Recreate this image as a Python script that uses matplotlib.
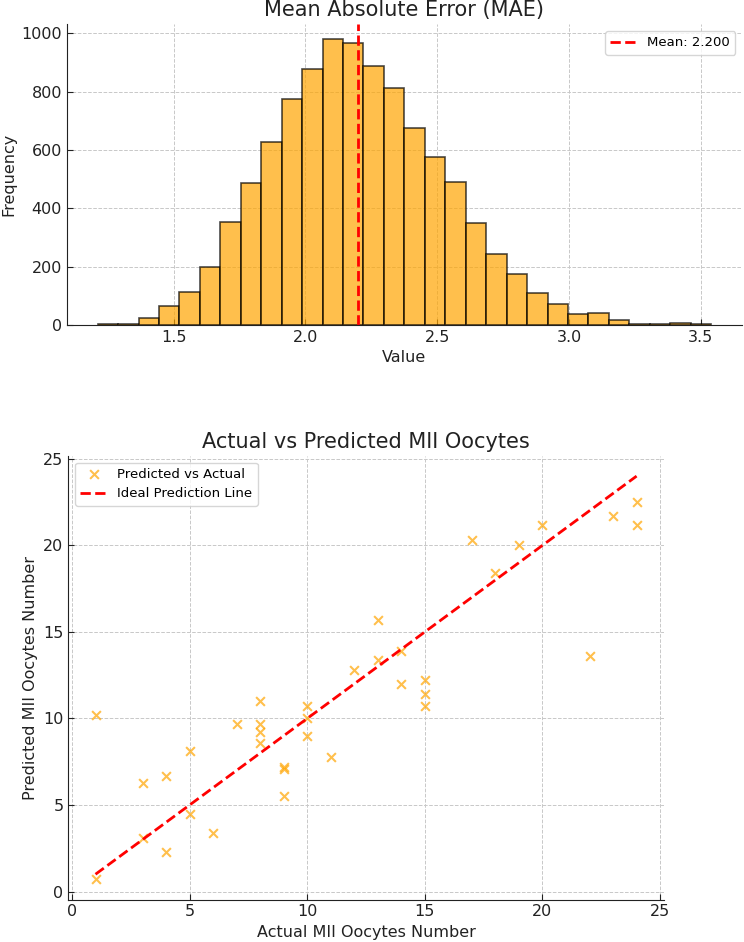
import numpy as np
import matplotlib
matplotlib.use("Agg")
import matplotlib.pyplot as plt

# histogram of MAE values (30 bins, counts)
mae_lo = 1.212
mae_hi = 3.539
mae_counts = [2, 5, 25, 66, 112, 199, 354, 486, 627, 776,
              877, 981, 966, 888, 814, 675, 577, 489, 349, 245,
              174, 109, 73, 37, 41, 16, 5, 2, 8, 2]
mae_mean = 2.200

# actual vs predicted MII oocytes
actual = [1, 1, 3, 3, 4, 4, 5, 5, 6, 7,
          8, 8, 8, 8, 9, 9, 9, 10, 10, 10,
          11, 12, 13, 13, 14, 14, 15, 15, 15, 17,
          18, 19, 20, 22, 23, 24, 24]
predicted = [10.2, 0.7, 6.3, 3.1, 6.7, 2.3, 8.1, 4.5, 3.4, 9.7,
             11.0, 9.7, 9.2, 8.6, 7.2, 7.1, 5.5, 10.7, 10.0, 9.0,
             7.8, 12.8, 15.7, 13.4, 13.9, 12.0, 12.2, 11.4, 10.7, 20.3,
             18.4, 20.0, 21.2, 13.6, 21.7, 22.5, 21.2]

plt.rcParams["font.family"] = "DejaVu Sans"
plt.rcParams["xtick.direction"] = "in"
plt.rcParams["ytick.direction"] = "in"

fig = plt.figure(figsize=(7.44, 9.42), dpi=100)


def style(ax):
    ax.spines["top"].set_visible(False)
    ax.spines["right"].set_visible(False)
    ax.spines["left"].set_color("#222222")
    ax.spines["bottom"].set_color("#222222")
    ax.grid(True, color="#c8c8c8", linestyle="--", linewidth=0.7)
    ax.set_axisbelow(True)
    ax.tick_params(labelsize=11.5, length=4, colors="#222222")


# top: histogram
ax1 = fig.add_axes([0.090, 0.655, 0.907, 0.319])
edges = np.linspace(mae_lo, mae_hi, len(mae_counts) + 1)
centers = (edges[:-1] + edges[1:]) / 2
ax1.hist(centers, bins=edges, weights=mae_counts, color="orange",
         edgecolor="black", alpha=0.7, linewidth=1.2)
ax1.axvline(mae_mean, color="red", linestyle="--", linewidth=2,
            label="Mean: {:.3f}".format(mae_mean))
ax1.set_title("Mean Absolute Error (MAE)", fontsize=15, color="#222222")
ax1.set_xlabel("Value", fontsize=11.5, color="#222222")
ax1.set_ylabel("Frequency", fontsize=11.5, color="#222222")
style(ax1)
ax1.legend(loc="upper right", fontsize=9.5)

# bottom: scatter
ax2 = fig.add_axes([0.092, 0.045, 0.800, 0.471])
ax2.scatter(actual, predicted, marker="x", color="orange", alpha=0.7,
            s=40, linewidths=1.5, label="Predicted vs Actual")
ax2.plot([min(actual), max(actual)], [min(actual), max(actual)],
         color="red", linestyle="--", linewidth=2, label="Ideal Prediction Line")
ax2.set_title("Actual vs Predicted MII Oocytes", fontsize=15, color="#222222")
ax2.set_xlabel("Actual MII Oocytes Number", fontsize=11.5, color="#222222")
ax2.set_ylabel("Predicted MII Oocytes Number", fontsize=11.5, color="#222222")
style(ax2)
ax2.legend(loc="upper left", fontsize=9.5)

fig.savefig("out.png", dpi=100)
